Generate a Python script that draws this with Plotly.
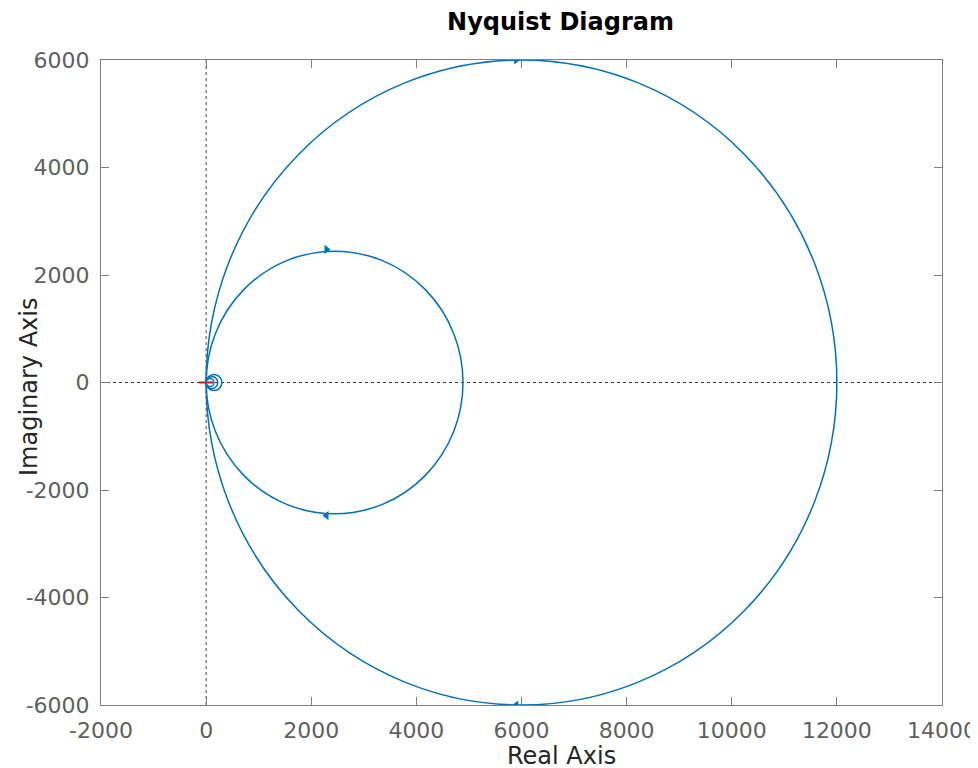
import plotly.graph_objects as go

# Nyquist loops: each loop is a circle through the origin, given by its real-axis diameter
loop_diameters = [12000, 4887, 300, 220, 150]

# Direction arrows (real, imag, symbol angle)
arrow_x = [5900, 5900, 2290, 2290]
arrow_y = [6000, -6000, 2475, -2475]
arrow_angle = [90, -90, 90, -90]

critical_x = [-1]
critical_y = [0]

x_ticks = [-2000, 0, 2000, 4000, 6000, 8000, 10000, 12000, 14000]
y_ticks = [-6000, -4000, -2000, 0, 2000, 4000, 6000]

blue = "#0072BD"
fig = go.Figure()

shapes = []
for d in loop_diameters:
    shapes.append(dict(type="circle", xref="x", yref="y", x0=0, x1=d,
                       y0=-d / 2, y1=d / 2,
                       line=dict(color=blue, width=1.5)))
# dotted zero lines
shapes.append(dict(type="line", xref="x", yref="paper", x0=0, x1=0, y0=0, y1=1,
                   line=dict(color="#404040", width=1, dash="dot"), layer="below"))
shapes.append(dict(type="line", xref="paper", yref="y", x0=0, x1=1, y0=0, y1=0,
                   line=dict(color="#404040", width=1, dash="dot"), layer="below"))

fig.add_trace(go.Scatter(x=arrow_x, y=arrow_y, mode="markers",
                         marker=dict(symbol="triangle-up", size=8, color=blue,
                                     angle=arrow_angle),
                         showlegend=False, hoverinfo="skip"))
fig.add_trace(go.Scatter(x=critical_x, y=critical_y, mode="markers",
                         marker=dict(symbol="line-ew", size=10, color="#FF0000",
                                     line=dict(color="#FF0000", width=2)),
                         showlegend=False))

font_fam = "DejaVu Sans, sans-serif"
tick_font = dict(family=font_fam, size=22, color="#5f5f5f")
axis_common = dict(showgrid=False, zeroline=False, showline=True, mirror="ticks",
                   linecolor="#808080", linewidth=1, ticks="inside", ticklen=8,
                   tickcolor="#808080", tickfont=tick_font, automargin=False)

W, H = 978, 768
fig.update_layout(
    width=W, height=H,
    paper_bgcolor="white", plot_bgcolor="white",
    margin=dict(l=93, r=44, t=52, b=71),
    shapes=shapes,
    title=dict(text="<b>Nyquist Diagram</b>", x=552.5 / W, xanchor="center",
               y=1 - 14 / H, yanchor="middle",
               font=dict(family=font_fam, size=24, color="#000000")),
    xaxis=dict(range=[-2000, 14000], tickvals=x_ticks,
               ticktext=[str(v) for v in x_ticks], ticklabelstandoff=6,
               **axis_common),
    yaxis=dict(range=[-6000, 6000], tickvals=y_ticks,
               ticktext=[str(v) for v in y_ticks], ticklabelstandoff=6,
               **axis_common),
    annotations=[
        dict(text="Real Axis", xref="paper", yref="paper", x=0.548, y=0,
             xanchor="center", yanchor="middle", yshift=-51, showarrow=False,
             font=dict(family=font_fam, size=24, color="#262626")),
        dict(text="Imaginary Axis", xref="paper", yref="paper", x=0, y=0.493,
             xanchor="center", yanchor="middle", xshift=-72, textangle=-90,
             showarrow=False,
             font=dict(family=font_fam, size=24, color="#262626")),
    ],
    showlegend=False,
)

fig.write_html("out.html")
